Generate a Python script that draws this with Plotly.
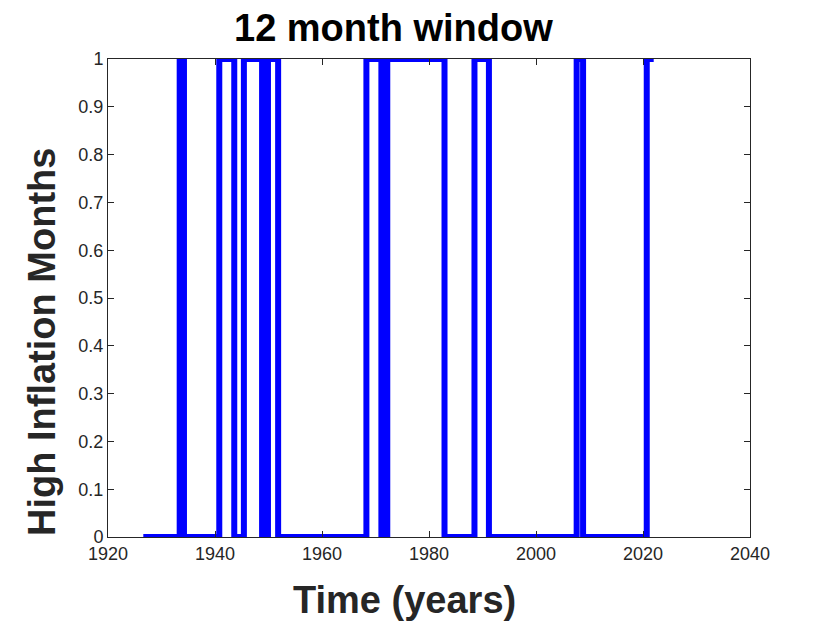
import plotly.graph_objects as go

# Step series: year at which each level starts, and the level (0 or 1)
change_years = [1926.6, 1933.4, 1934.2, 1940.8, 1943.6, 1945.4, 1948.8, 1949.9,
                1951.8, 1968.3, 1971.1, 1972.2, 1982.9, 1988.5, 1991.2, 2007.6,
                2008.8, 2020.7, 2022.0]
levels = [0, 1, 0, 1, 0, 1, 0, 1, 0, 1, 0, 1, 0, 1, 0, 1, 0, 1, 1]

x_ticks = [1920, 1940, 1960, 1980, 2000, 2020, 2040]
y_ticks = [0, 0.1, 0.2, 0.3, 0.4, 0.5, 0.6, 0.7, 0.8, 0.9, 1]

title_text = "12 month window"
x_title = "Time (years)"
y_title = "High Inflation Months"

axis_color = "#262626"
font_family = "Liberation Sans, Arial, sans-serif"

fig = go.Figure()
fig.add_trace(go.Scatter(
    x=change_years, y=levels, mode="lines",
    line=dict(color="#0000ff", width=6, shape="hv"),
    showlegend=False, hoverinfo="skip",
))

axis_common = dict(
    showline=True, mirror="ticks", linecolor=axis_color, linewidth=1,
    ticks="inside", ticklen=6, tickcolor=axis_color, tickwidth=1,
    showgrid=False, zeroline=False,
    tickfont=dict(family=font_family, size=18, color=axis_color),
)

fig.update_xaxes(range=[1920, 2040], tickvals=x_ticks,
                 ticktext=[str(v) for v in x_ticks], **axis_common)
fig.update_yaxes(range=[0, 1], tickvals=y_ticks,
                 ticktext=[("%g" % v) for v in y_ticks], **axis_common)

fig.update_layout(
    width=822, height=615,
    margin=dict(l=100, r=80, t=51, b=86, autoexpand=False),
    plot_bgcolor="white", paper_bgcolor="white",
    font=dict(family=font_family),
    annotations=[
        dict(text="<b>%s</b>" % title_text, xref="paper", yref="paper",
             x=0.444, y=1.065, xanchor="center", yanchor="middle",
             showarrow=False, font=dict(size=38, color="black", family=font_family)),
        dict(text="<b>%s</b>" % x_title, xref="paper", yref="paper",
             x=0.4626, y=-0.1318, xanchor="center", yanchor="middle",
             showarrow=False, font=dict(size=38, color=axis_color, family=font_family)),
        dict(text="<b>%s</b>" % y_title, xref="paper", yref="paper",
             x=-0.1028, y=0.408, xanchor="center", yanchor="middle", textangle=-90,
             showarrow=False, font=dict(size=38, color=axis_color, family=font_family)),
    ],
)

fig.write_html("out.html")
